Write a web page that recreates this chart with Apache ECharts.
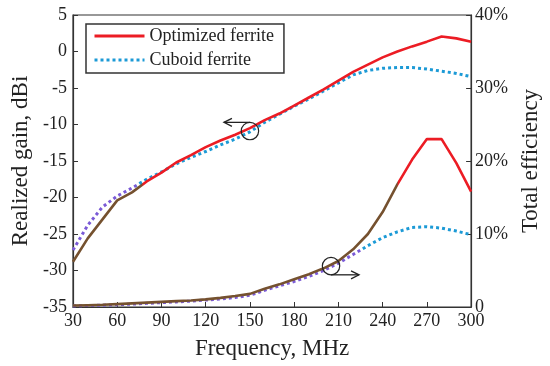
<!DOCTYPE html>
<html>
<head>
<meta charset="utf-8">
<script src="https://cdn.jsdelivr.net/npm/echarts@6/dist/echarts.min.js"></script>
<style>
html,body{margin:0;padding:0;background:#fff;}
#chart{width:550px;height:366px;}
</style>
</head>
<body>
<div id="chart"></div>
<script>
// ---- data ----
var freq = [30,40,50,60,70,80,90,100,110,120,130,140,150,160,170,180,190,200,210,220,230,240,250,260,270,280,290,300];
var gainOptimized = [-28.8,-25.6,-23.0,-20.4,-19.3,-17.8,-16.6,-15.2,-14.2,-13.1,-12.2,-11.4,-10.5,-9.4,-8.5,-7.4,-6.3,-5.2,-4.0,-2.8,-1.8,-0.8,0.0,0.7,1.35,2.05,1.8,1.35];
var gainCuboid = [-27.2,-23.8,-21.3,-19.8,-18.7,-17.5,-16.5,-15.4,-14.5,-13.7,-12.8,-12.0,-11.0,-9.7,-8.6,-7.5,-6.5,-5.4,-4.3,-3.2,-2.6,-2.3,-2.2,-2.2,-2.4,-2.7,-3.0,-3.45];
var effOptimized = [0.2,0.25,0.3,0.4,0.5,0.6,0.7,0.8,0.9,1.05,1.25,1.5,1.8,2.5,3.1,3.8,4.5,5.3,6.3,7.9,10.0,13.0,16.8,20.2,23.0,23.0,19.7,15.8];
var effCuboid = [0.15,0.2,0.25,0.3,0.4,0.5,0.6,0.7,0.8,0.95,1.1,1.3,1.6,2.3,2.9,3.5,4.2,5.0,6.0,7.2,8.4,9.5,10.3,10.9,11.0,10.8,10.4,9.9];
var seriesNames = ['Optimized ferrite','Cuboid ferrite'];
var xTicks = {min:30, max:300, interval:30};
var gainTicks = {min:-35, max:5, interval:5};
var effTicks = {min:0, max:40, interval:10};

var RED = '#ec1c24', BLUE = '#1c9ad6', BROWN = '#75512f', PURPLE = '#7a5ad6';
var FONT = 'Liberation Serif';
var TXT = '#222';

function pairs(xs, ys){ return xs.map(function(x,i){return [x, ys[i]];}); }

var chart = echarts.init(document.getElementById('chart'), null, {renderer:'canvas'});
var option = {
  animation:false,
  backgroundColor:'#fff',
  textStyle:{fontFamily:FONT},
  grid:{left:73, right:73, top:15, bottom:59, show:true, borderColor:'#333', borderWidth:1.2},
  legend:{
    orient:'vertical', left:86, top:24,
    padding:[3,10,4,7], itemGap:6, itemWidth:50, itemHeight:14,
    borderColor:'#333', borderWidth:1.5, backgroundColor:'#fff',
    textStyle:{fontFamily:FONT, fontSize:18, color:TXT},
    data:[
      {name:seriesNames[0], lineStyle:{color:RED, width:3, type:'solid'}, itemStyle:{color:'rgba(0,0,0,0)', opacity:0, borderWidth:0}},
      {name:seriesNames[1], lineStyle:{color:BLUE, width:3, type:[3,3]}, itemStyle:{color:'rgba(0,0,0,0)', opacity:0, borderWidth:0}}
    ]
  },
  xAxis:{
    type:'value', min:xTicks.min, max:xTicks.max, interval:xTicks.interval,
    name:'Frequency, MHz', nameLocation:'middle', nameGap:30,
    nameTextStyle:{fontFamily:FONT, fontSize:23, color:TXT},
    axisLine:{onZero:false, lineStyle:{color:'#333', width:1.2}},
    axisTick:{inside:true, length:5, lineStyle:{color:'#333'}},
    axisLabel:{fontFamily:FONT, fontSize:18, color:TXT, margin:5},
    splitLine:{show:false}
  },
  yAxis:[{
    type:'value', position:'left', min:gainTicks.min, max:gainTicks.max, interval:gainTicks.interval,
    name:'Realized gain, dBi', nameLocation:'middle', nameGap:34,
    nameTextStyle:{fontFamily:FONT, fontSize:23, color:TXT},
    axisLine:{show:true, onZero:false, lineStyle:{color:'#333', width:1.2}},
    axisTick:{show:true, inside:true, length:5, lineStyle:{color:'#333'}},
    axisLabel:{fontFamily:FONT, fontSize:18, color:TXT, margin:6},
    splitLine:{show:false}
  },{
    type:'value', position:'right', min:effTicks.min, max:effTicks.max, interval:effTicks.interval,
    name:'Total efficiency', nameLocation:'middle', nameGap:41,
    nameTextStyle:{fontFamily:FONT, fontSize:23, color:TXT},
    axisLine:{show:true, onZero:false, lineStyle:{color:'#333', width:1.2}},
    axisTick:{show:true, inside:true, length:5, lineStyle:{color:'#333'}},
    axisLabel:{fontFamily:FONT, fontSize:18, color:TXT, margin:4,
      formatter:function(v){return v===0?'0':v+'%';}},
    splitLine:{show:false}
  }],
  series:[
    {name:seriesNames[0], type:'line', yAxisIndex:0, data:pairs(freq,gainOptimized), showSymbol:false, symbol:'none', z:3,
      lineStyle:{color:RED, width:2.6}, itemStyle:{color:RED}},
    {name:seriesNames[1], type:'line', yAxisIndex:0, data:pairs(freq,gainCuboid), showSymbol:false, symbol:'none', z:2,
      lineStyle:{color:BLUE, width:3, type:[3,3]}, itemStyle:{color:BLUE}},
    {name:seriesNames[0], type:'line', yAxisIndex:1, data:pairs(freq,effOptimized), showSymbol:false, symbol:'none', z:3,
      lineStyle:{color:RED, width:2.6}, itemStyle:{color:RED}},
    {name:seriesNames[1], type:'line', yAxisIndex:1, data:pairs(freq,effCuboid), showSymbol:false, symbol:'none', z:2,
      lineStyle:{color:BLUE, width:3, type:[3,3]}, itemStyle:{color:BLUE}}
  ]
};
chart.setOption(option);

// colour shift along the lower-left parts of the curves (as in the reference), via global pixel gradients
function lastStop(f, c1, c2){
  var p = chart.convertToPixel({xAxisIndex:0}, f);
  var x0 = chart.convertToPixel({xAxisIndex:0}, 30) - 5, x1 = chart.convertToPixel({xAxisIndex:0}, 300) + 5;
  var o = (p - x0) / (x1 - x0);
  return new echarts.graphic.LinearGradient(x0, 0, x1, 0, [
    {offset:0, color:c1},{offset:o, color:c1},{offset:Math.min(1,o+0.001), color:c2},{offset:1, color:c2}], true);
}
chart.setOption({series:[
  {lineStyle:{color:lastStop(77, BROWN, RED)}},
  {lineStyle:{color:lastStop(73, PURPLE, BLUE)}},
  {lineStyle:{color:lastStop(250, BROWN, RED)}},
  {lineStyle:{color:lastStop(225, PURPLE, BLUE)}}
]});

// annotations: circles + arrows placed at data coordinates
var c1 = chart.convertToPixel({xAxisIndex:0, yAxisIndex:0}, [150, -10.9]);
var c2 = chart.convertToPixel({xAxisIndex:0, yAxisIndex:1}, [205, 5.6]);
var R = 8.7;
function arrow(x1,y,x2){
  var dir = x2 > x1 ? 1 : -1;
  return [
    {type:'line', shape:{x1:x1,y1:y,x2:x2,y2:y}, style:{stroke:'#222', lineWidth:1.3}, z:10},
    {type:'polyline', shape:{points:[[x2-dir*8,y-4],[x2,y],[x2-dir*8,y+4]]}, style:{stroke:'#222', fill:null, lineWidth:1.3}, z:10}
  ];
}
var g = [
  {type:'circle', shape:{cx:c1[0], cy:c1[1], r:R}, style:{stroke:'#222', fill:null, lineWidth:1.2}, z:10},
  {type:'circle', shape:{cx:c2[0], cy:c2[1], r:R}, style:{stroke:'#222', fill:null, lineWidth:1.2}, z:10}
].concat(arrow(c1[0], c1[1]-R, c1[0]-26)).concat(arrow(c2[0], c2[1]+R, c2[0]+28));
chart.setOption({graphic:g});
</script>
</body>
</html>
